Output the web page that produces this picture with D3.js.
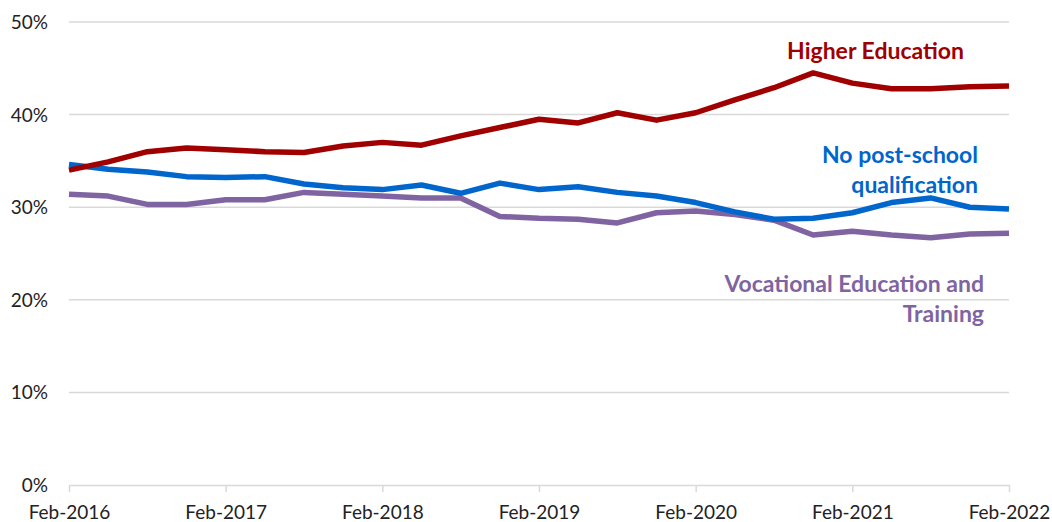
<!DOCTYPE html>
<html>
<head>
<meta charset="utf-8">
<script src="https://cdn.jsdelivr.net/npm/d3@7"></script>
<style>
  body { margin: 0; background: #fff; }
  svg { display: block; font-family: Lato, "Open Sans", sans-serif; }
</style>
</head>
<body>
<svg id="chart" width="1052" height="522"></svg>
<script>
'use strict';

// quarterly observations, Feb-2016 .. Feb-2022
var quarters = d3.range(25);
var yearTicks = ['Feb-2016', 'Feb-2017', 'Feb-2018', 'Feb-2019', 'Feb-2020', 'Feb-2021', 'Feb-2022'];
var yTicks = [0, 10, 20, 30, 40, 50];

var higherEd = [34.0, 34.9, 36.0, 36.4, 36.2, 36.0, 35.9, 36.6, 37.0, 36.7, 37.7, 38.6, 39.5,
  39.1, 40.2, 39.4, 40.2, 41.6, 42.9, 44.5, 43.4, 42.8, 42.8, 43.0, 43.1];
var noPostSchool = [34.6, 34.1, 33.8, 33.3, 33.2, 33.3, 32.5, 32.1, 31.9, 32.4, 31.5, 32.6, 31.9,
  32.2, 31.6, 31.2, 30.5, 29.5, 28.7, 28.8, 29.4, 30.5, 31.0, 30.0, 29.8];
var vocational = [31.4, 31.2, 30.3, 30.3, 30.8, 30.8, 31.6, 31.4, 31.2, 31.0, 31.0, 29.0, 28.8,
  28.7, 28.3, 29.4, 29.6, 29.2, 28.6, 27.0, 27.4, 27.0, 26.7, 27.1, 27.2];

var series = [
  { name: 'Higher Education', values: higherEd, color: '#A00000',
    label: ['Higher Education'], lx: 964, ly: 59 },
  { name: 'No post-school qualification', values: noPostSchool, color: '#0066CC',
    label: ['No post-school', 'qualification'], lx: 978, ly: 163 },
  { name: 'Vocational Education and Training', values: vocational, color: '#8064A2',
    label: ['Vocational Education and', 'Training'], lx: 984, ly: 292 }
];

var svg = d3.select('#chart');
var plotLeft = 69, plotRight = 1009, plotTop = 22, plotBottom = 485;

var x = d3.scaleLinear().domain([0, 24]).range([plotLeft, plotRight]);
var y = d3.scaleLinear().domain([0, 50]).range([plotBottom, plotTop]);

// gridlines
svg.append('g')
  .selectAll('line')
  .data(yTicks.slice(1))
  .enter().append('line')
    .attr('x1', plotLeft)
    .attr('x2', plotRight)
    .attr('y1', d => y(d))
    .attr('y2', d => y(d))
    .attr('stroke', '#d9d9d9')
    .attr('stroke-width', 1.5);

// y labels
svg.append('g')
  .selectAll('text')
  .data(yTicks)
  .enter().append('text')
    .attr('x', 48)
    .attr('y', d => y(d) + 7)
    .attr('text-anchor', 'end')
    .attr('font-size', 19)
    .attr('fill', '#222')
    .text(d => d + '%');

// x axis
var xAxis = d3.axisBottom(x)
  .tickValues(d3.range(0, 25, 4))
  .tickFormat((d, i) => yearTicks[i])
  .tickSize(7)
  .tickSizeOuter(0);

var gx = svg.append('g')
  .attr('transform', 'translate(0,' + plotBottom + ')')
  .call(xAxis);
gx.select('.domain').attr('stroke', '#d9d9d9').attr('stroke-width', 1.5);
gx.selectAll('.tick line').attr('stroke', '#d9d9d9').attr('stroke-width', 1.5);
gx.selectAll('.tick text')
  .attr('font-family', 'Lato, sans-serif')
  .attr('font-size', 19)
  .attr('fill', '#222')
  .attr('y', 0)
  .attr('dy', 0)
  .attr('transform', 'translate(0,34)');

// lines
var line = d3.line()
  .x((d, i) => x(quarters[i]))
  .y(d => y(d));

svg.append('g')
  .selectAll('path')
  .data(series.slice().reverse())
  .enter().append('path')
    .attr('d', d => line(d.values))
    .attr('fill', 'none')
    .attr('stroke', d => d.color)
    .attr('stroke-width', 5.5)
    .attr('stroke-linejoin', 'round');

// direct labels
series.forEach(s => {
  var t = svg.append('text')
    .attr('text-anchor', 'end')
    .attr('font-size', 23)
    .attr('font-weight', 'bold')
    .attr('fill', s.color);
  s.label.forEach((ln, i) => {
    t.append('tspan')
      .attr('x', s.lx)
      .attr('y', s.ly + i * 30)
      .text(ln);
  });
});
</script>
</body>
</html>
